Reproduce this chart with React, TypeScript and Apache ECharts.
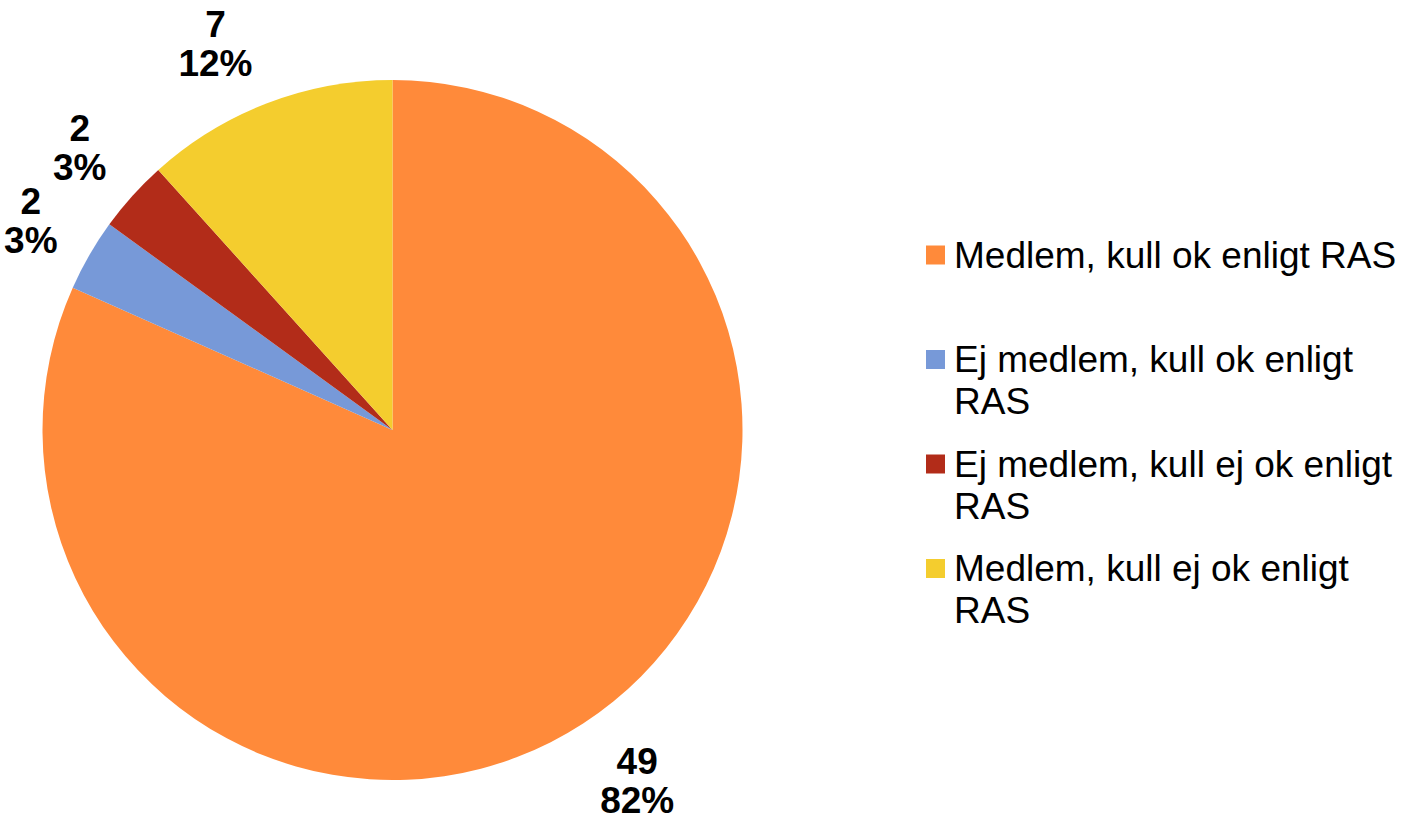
import React, { useEffect, useRef } from "react";
import * as echarts from "echarts";

const categories = [
  "Medlem, kull ok enligt RAS",
  "Ej medlem, kull ok enligt RAS",
  "Ej medlem, kull ej ok enligt RAS",
  "Medlem, kull ej ok enligt RAS",
];
const legendLabels = [
  " \nMedlem, kull ok enligt RAS\n ",
  " \nEj medlem, kull ok enligt\nRAS",
  " \nEj medlem, kull ej ok enligt\nRAS",
  " \nMedlem, kull ej ok enligt\nRAS",
];
const values = [49, 2, 2, 7];
const colors = ["#FF8A3A", "#7799D8", "#B22C19", "#F4CD2E"];

const W = 1406;
const H = 821;
const CX = 392.5;
const CY = 430;
const R = 350;
const GAP = 25;
const FONT = '"Liberation Sans", Arial, sans-serif';

export default function App() {
  const ref = useRef<HTMLDivElement>(null);
  useEffect(() => {
    document.body.style.margin = "0";
    if (!ref.current) return;
    const chart = echarts.init(ref.current, null, { renderer: "svg" });
    const total = values.reduce((a, b) => a + b, 0);
    chart.setOption({
      animation: false,
      backgroundColor: "#ffffff",
      legend: {
        orient: "vertical",
        left: 921,
        top: 187,
        itemWidth: 19,
        itemHeight: 19,
        itemGap: -21.5,
        icon: "rect",
        selectedMode: false,
        data: categories,
        formatter: (name: string) => legendLabels[categories.indexOf(name)],
        textStyle: {
          fontFamily: FONT,
          fontSize: 37,
          lineHeight: 42,
          color: "#000000",
          padding: [0, 0, 0, 4],
        },
      },
      series: [
        {
          type: "pie",
          center: [CX, CY],
          radius: R,
          startAngle: 90,
          clockwise: true,
          percentPrecision: 0,
          avoidLabelOverlap: false,
          silent: true,
          data: categories.map((name, i) => ({
            name,
            value: values[i],
            itemStyle: { color: colors[i] },
          })),
          label: {
            show: true,
            position: "outside",
            formatter: "{c}\n{d}%",
            fontFamily: FONT,
            fontSize: 37,
            fontWeight: "bold",
            lineHeight: 39,
            color: "#000000",
          },
          labelLine: { show: false, length: 20, length2: 0 },
          labelLayout: (params: any) => {
            const i = params.dataIndex;
            const before = values.slice(0, i).reduce((a, b) => a + b, 0);
            const mid = ((before + values[i] / 2) / total) * Math.PI * 2;
            const dx = Math.sin(mid);
            const dy = -Math.cos(mid);
            const w = params.labelRect.width;
            const h = params.labelRect.height;
            const ext = Math.abs(dx) * (w / 2) + Math.abs(dy) * (h / 2);
            const d = R + GAP + ext;
            let x = CX + dx * d;
            let y = CY + dy * d;
            const yMin = 5 + h / 2;
            const yMax = H - 1 - h / 2;
            if (y < yMin || y > yMax) {
              y = Math.min(Math.max(y, yMin), yMax);
              const oy = y - CY;
              x = CX + Math.sign(dx) * Math.sqrt(Math.max(d * d - oy * oy, 0));
            }
            return { x, y, align: "center", verticalAlign: "middle" };
          },
        },
      ],
    });
    return () => chart.dispose();
  }, []);
  return <div ref={ref} style={{ width: W, height: H }} />;
}
